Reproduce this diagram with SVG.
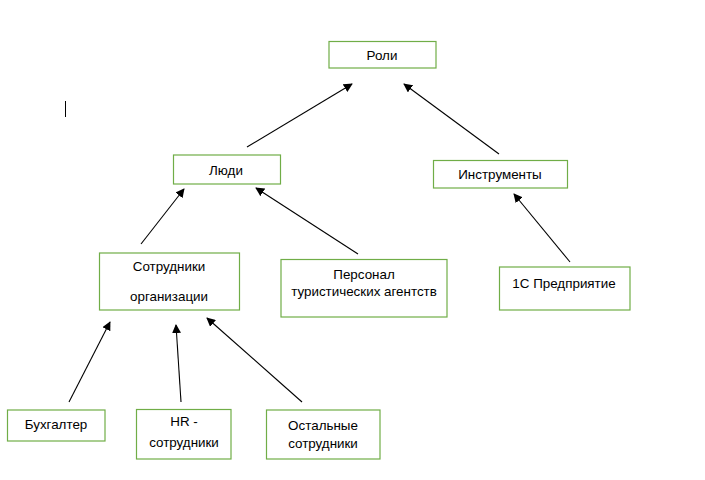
<svg xmlns="http://www.w3.org/2000/svg" width="705" height="480" viewBox="0 0 705 480">
<style>
.box{fill:#fff;stroke:#70AD47;stroke-width:1.2}
text{font-family:"Liberation Sans","DejaVu Sans",sans-serif;font-size:13.4px;fill:#000;text-anchor:middle}
.c line{stroke:#000;stroke-width:1.1;marker-end:url(#ah)}
</style>
<defs>
<marker id="ah" viewBox="0 0 10 10" refX="9" refY="5" markerWidth="9" markerHeight="9" markerUnits="userSpaceOnUse" orient="auto">
<path d="M0,0 L10,5 L0,10 z" fill="#000"/>
</marker>
</defs>
<rect width="705" height="480" fill="#fff"/>
<line x1="65.5" y1="101" x2="65.5" y2="117" stroke="#000" stroke-width="1"/>
<g id="roli"><rect class="box" x="329" y="41.5" width="107" height="26.5"/><text x="382" y="59.5">Роли</text></g>
<g id="lyudi"><rect class="box" x="173.5" y="155" width="107" height="29"/><text x="226" y="174.5">Люди</text></g>
<g id="instr"><rect class="box" x="433.5" y="160.5" width="134" height="27.5"/><text x="500" y="178.5">Инструменты</text></g>
<g id="sotr"><rect class="box" x="99.5" y="253" width="140" height="57"/><text x="169" y="270.5">Сотрудники</text><text x="169" y="300.5">организации</text></g>
<g id="pers"><rect class="box" x="281" y="259.5" width="166" height="57.5"/><text x="364" y="278.5">Персонал</text><text x="364" y="295.5">туристических агентств</text></g>
<g id="onec"><rect class="box" x="499.5" y="267" width="130.5" height="43"/><text x="564" y="287.5">1С Предприятие</text></g>
<g id="buh"><rect class="box" x="7.5" y="410" width="97.5" height="31"/><text x="56" y="428.5">Бухгалтер</text></g>
<g id="hr"><rect class="box" x="136.5" y="409.5" width="94.5" height="49.5"/><text x="184" y="425.5">HR -</text><text x="184" y="446.5">сотрудники</text></g>
<g id="ost"><rect class="box" x="266.5" y="410" width="113.5" height="49"/><text x="323" y="429.5">Остальные</text><text x="323" y="447.5">сотрудники</text></g>
<g class="c" id="connectors">
<line x1="247" y1="147" x2="352" y2="84"/>
<line x1="499" y1="154" x2="404" y2="84"/>
<line x1="141" y1="244" x2="184" y2="189"/>
<line x1="358" y1="254" x2="256" y2="188"/>
<line x1="570" y1="262" x2="514" y2="194"/>
<line x1="69" y1="402" x2="110" y2="322"/>
<line x1="181" y1="402" x2="176" y2="325"/>
<line x1="302" y1="402" x2="207" y2="318"/>
</g>
</svg>
